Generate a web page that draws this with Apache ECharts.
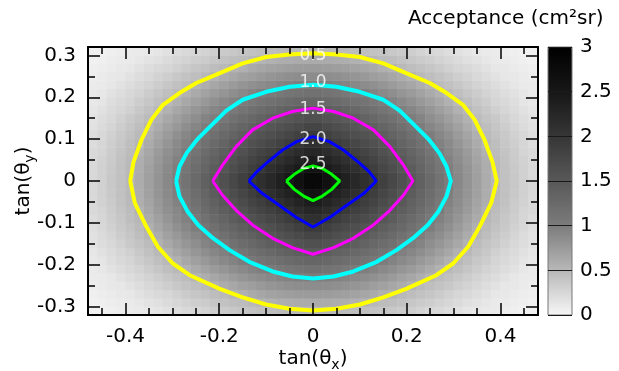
<!DOCTYPE html>
<html>
<head>
<meta charset="utf-8">
<script src="https://cdn.jsdelivr.net/npm/echarts@6/dist/echarts.min.js"></script>
<style>
html, body { margin: 0; padding: 0; background: #fff; }
#main { width: 619px; height: 371px; }
</style>
</head>
<body>
<div id="main"></div>
<script>
// acceptance map, cells 0.02 wide, centres in tan(theta_x) / tan(theta_y)
const xCells = [-0.47,-0.45,-0.43,-0.41,-0.39,-0.37,-0.35,-0.33,-0.31,-0.29,-0.27,-0.25,-0.23,-0.21,-0.19,-0.17,-0.15,-0.13,-0.11,-0.09,-0.07,-0.05,-0.03,-0.01,
                0.01,0.03,0.05,0.07,0.09,0.11,0.13,0.15,0.17,0.19,0.21,0.23,0.25,0.27,0.29,0.31,0.33,0.35,0.37,0.39,0.41,0.43,0.45,0.47];
const yCells = [-0.31,-0.29,-0.27,-0.25,-0.23,-0.21,-0.19,-0.17,-0.15,-0.13,-0.11,-0.09,-0.07,-0.05,-0.03,-0.01,
                0.01,0.03,0.05,0.07,0.09,0.11,0.13,0.15,0.17,0.19,0.21,0.23,0.25,0.27,0.29,0.31];

// rows bottom -> top, values in cm2 sr
const acceptance = [
  [0.04,0.04,0.06,0.07,0.09,0.10,0.11,0.14,0.17,0.20,0.23,0.25,0.28,0.32,0.35,0.37,0.40,0.42,0.44,0.45,0.47,0.48,0.48,0.49,0.49,0.48,0.48,0.47,0.45,0.44,0.42,0.40,0.37,0.35,0.32,0.28,0.25,0.23,0.20,0.17,0.14,0.11,0.10,0.09,0.07,0.06,0.04,0.04],
  [0.04,0.06,0.07,0.09,0.10,0.12,0.15,0.18,0.22,0.25,0.28,0.32,0.35,0.39,0.42,0.45,0.47,0.50,0.53,0.56,0.58,0.59,0.61,0.61,0.61,0.61,0.59,0.58,0.56,0.53,0.50,0.47,0.45,0.42,0.39,0.35,0.32,0.28,0.25,0.22,0.18,0.15,0.12,0.10,0.09,0.07,0.06,0.04],
  [0.06,0.07,0.09,0.11,0.12,0.16,0.20,0.23,0.26,0.30,0.35,0.39,0.42,0.46,0.49,0.54,0.57,0.62,0.65,0.68,0.70,0.72,0.73,0.74,0.74,0.73,0.72,0.70,0.68,0.65,0.62,0.57,0.54,0.49,0.46,0.42,0.39,0.35,0.30,0.26,0.23,0.20,0.16,0.12,0.11,0.09,0.07,0.06],
  [0.07,0.09,0.11,0.12,0.16,0.20,0.24,0.28,0.32,0.37,0.41,0.45,0.49,0.55,0.60,0.64,0.69,0.72,0.76,0.79,0.82,0.84,0.86,0.87,0.87,0.86,0.84,0.82,0.79,0.76,0.72,0.69,0.64,0.60,0.55,0.49,0.45,0.41,0.37,0.32,0.28,0.24,0.20,0.16,0.12,0.11,0.09,0.07],
  [0.09,0.10,0.12,0.16,0.20,0.24,0.28,0.33,0.38,0.43,0.47,0.53,0.58,0.64,0.69,0.74,0.79,0.83,0.87,0.90,0.93,0.96,0.98,0.99,0.99,0.98,0.96,0.93,0.90,0.87,0.83,0.79,0.74,0.69,0.64,0.58,0.53,0.47,0.43,0.38,0.33,0.28,0.24,0.20,0.16,0.12,0.10,0.09],
  [0.10,0.12,0.16,0.20,0.24,0.28,0.34,0.39,0.44,0.49,0.55,0.62,0.68,0.74,0.79,0.85,0.89,0.94,0.98,1.02,1.06,1.10,1.13,1.15,1.15,1.13,1.10,1.06,1.02,0.98,0.94,0.89,0.85,0.79,0.74,0.68,0.62,0.55,0.49,0.44,0.39,0.34,0.28,0.24,0.20,0.16,0.12,0.10],
  [0.11,0.14,0.19,0.23,0.27,0.33,0.38,0.44,0.49,0.56,0.63,0.70,0.77,0.83,0.89,0.94,1.00,1.05,1.11,1.15,1.20,1.24,1.28,1.31,1.31,1.28,1.24,1.20,1.15,1.11,1.05,1.00,0.94,0.89,0.83,0.77,0.70,0.63,0.56,0.49,0.44,0.38,0.33,0.27,0.23,0.19,0.14,0.11],
  [0.13,0.17,0.22,0.26,0.31,0.37,0.43,0.49,0.56,0.64,0.71,0.78,0.85,0.92,0.97,1.04,1.11,1.17,1.22,1.28,1.33,1.37,1.42,1.47,1.47,1.42,1.37,1.33,1.28,1.22,1.17,1.11,1.04,0.97,0.92,0.85,0.78,0.71,0.64,0.56,0.49,0.43,0.37,0.31,0.26,0.22,0.17,0.13],
  [0.15,0.20,0.24,0.30,0.36,0.41,0.47,0.55,0.63,0.71,0.78,0.85,0.93,0.99,1.07,1.15,1.22,1.28,1.35,1.41,1.46,1.51,1.57,1.62,1.62,1.57,1.51,1.46,1.41,1.35,1.28,1.22,1.15,1.07,0.99,0.93,0.85,0.78,0.71,0.63,0.55,0.47,0.41,0.36,0.30,0.24,0.20,0.15],
  [0.17,0.22,0.27,0.33,0.39,0.45,0.52,0.60,0.69,0.77,0.85,0.92,0.99,1.08,1.17,1.25,1.32,1.39,1.46,1.53,1.59,1.65,1.71,1.78,1.78,1.71,1.65,1.59,1.53,1.46,1.39,1.32,1.25,1.17,1.08,0.99,0.92,0.85,0.77,0.69,0.60,0.52,0.45,0.39,0.33,0.27,0.22,0.17],
  [0.19,0.24,0.30,0.36,0.42,0.48,0.57,0.66,0.74,0.83,0.91,0.99,1.08,1.17,1.26,1.34,1.42,1.50,1.57,1.63,1.70,1.77,1.85,1.94,1.94,1.85,1.77,1.70,1.63,1.57,1.50,1.42,1.34,1.26,1.17,1.08,0.99,0.91,0.83,0.74,0.66,0.57,0.48,0.42,0.36,0.30,0.24,0.19],
  [0.21,0.26,0.32,0.38,0.45,0.51,0.61,0.70,0.79,0.88,0.96,1.05,1.15,1.25,1.34,1.44,1.52,1.60,1.68,1.75,1.83,1.91,2.00,2.10,2.10,2.00,1.91,1.83,1.75,1.68,1.60,1.52,1.44,1.34,1.25,1.15,1.05,0.96,0.88,0.79,0.70,0.61,0.51,0.45,0.38,0.32,0.26,0.21],
  [0.23,0.27,0.34,0.40,0.47,0.55,0.64,0.74,0.83,0.91,1.01,1.11,1.22,1.32,1.42,1.52,1.61,1.70,1.79,1.87,1.96,2.06,2.16,2.25,2.25,2.16,2.06,1.96,1.87,1.79,1.70,1.61,1.52,1.42,1.32,1.22,1.11,1.01,0.91,0.83,0.74,0.64,0.55,0.47,0.40,0.34,0.27,0.23],
  [0.23,0.29,0.35,0.42,0.48,0.58,0.67,0.77,0.86,0.95,1.05,1.17,1.28,1.38,1.49,1.59,1.69,1.79,1.88,1.99,2.09,2.20,2.30,2.41,2.41,2.30,2.20,2.09,1.99,1.88,1.79,1.69,1.59,1.49,1.38,1.28,1.17,1.05,0.95,0.86,0.77,0.67,0.58,0.48,0.42,0.35,0.29,0.23],
  [0.24,0.30,0.36,0.43,0.49,0.59,0.69,0.79,0.88,0.98,1.09,1.21,1.32,1.44,1.55,1.66,1.77,1.88,1.99,2.11,2.23,2.34,2.45,2.59,2.59,2.45,2.34,2.23,2.11,1.99,1.88,1.77,1.66,1.55,1.44,1.32,1.21,1.09,0.98,0.88,0.79,0.69,0.59,0.49,0.43,0.36,0.30,0.24],
  [0.24,0.30,0.37,0.43,0.50,0.60,0.70,0.80,0.90,1.00,1.13,1.25,1.37,1.49,1.62,1.74,1.86,1.99,2.11,2.23,2.36,2.48,2.64,2.81,2.81,2.64,2.48,2.36,2.23,2.11,1.99,1.86,1.74,1.62,1.49,1.37,1.25,1.13,1.00,0.90,0.80,0.70,0.60,0.50,0.43,0.37,0.30,0.24],
  [0.24,0.30,0.37,0.43,0.50,0.60,0.70,0.80,0.90,1.00,1.13,1.25,1.37,1.49,1.62,1.74,1.86,1.99,2.11,2.23,2.36,2.48,2.64,2.81,2.81,2.64,2.48,2.36,2.23,2.11,1.99,1.86,1.74,1.62,1.49,1.37,1.25,1.13,1.00,0.90,0.80,0.70,0.60,0.50,0.43,0.37,0.30,0.24],
  [0.24,0.30,0.36,0.43,0.49,0.59,0.69,0.79,0.88,0.98,1.09,1.21,1.32,1.44,1.55,1.66,1.77,1.88,1.99,2.11,2.23,2.34,2.45,2.59,2.59,2.45,2.34,2.23,2.11,1.99,1.88,1.77,1.66,1.55,1.44,1.32,1.21,1.09,0.98,0.88,0.79,0.69,0.59,0.49,0.43,0.36,0.30,0.24],
  [0.23,0.29,0.35,0.42,0.48,0.58,0.67,0.77,0.86,0.95,1.05,1.17,1.28,1.38,1.49,1.59,1.69,1.79,1.88,1.99,2.09,2.20,2.30,2.41,2.41,2.30,2.20,2.09,1.99,1.88,1.79,1.69,1.59,1.49,1.38,1.28,1.17,1.05,0.95,0.86,0.77,0.67,0.58,0.48,0.42,0.35,0.29,0.23],
  [0.23,0.27,0.34,0.40,0.47,0.55,0.64,0.74,0.83,0.91,1.01,1.11,1.22,1.32,1.42,1.52,1.61,1.70,1.79,1.87,1.96,2.06,2.16,2.25,2.25,2.16,2.06,1.96,1.87,1.79,1.70,1.61,1.52,1.42,1.32,1.22,1.11,1.01,0.91,0.83,0.74,0.64,0.55,0.47,0.40,0.34,0.27,0.23],
  [0.21,0.26,0.32,0.38,0.45,0.51,0.61,0.70,0.79,0.88,0.96,1.05,1.15,1.25,1.34,1.44,1.52,1.60,1.68,1.75,1.83,1.91,2.00,2.10,2.10,2.00,1.91,1.83,1.75,1.68,1.60,1.52,1.44,1.34,1.25,1.15,1.05,0.96,0.88,0.79,0.70,0.61,0.51,0.45,0.38,0.32,0.26,0.21],
  [0.19,0.24,0.30,0.36,0.42,0.48,0.57,0.66,0.74,0.83,0.91,0.99,1.08,1.17,1.26,1.34,1.42,1.50,1.57,1.63,1.70,1.77,1.85,1.94,1.94,1.85,1.77,1.70,1.63,1.57,1.50,1.42,1.34,1.26,1.17,1.08,0.99,0.91,0.83,0.74,0.66,0.57,0.48,0.42,0.36,0.30,0.24,0.19],
  [0.17,0.22,0.27,0.33,0.39,0.45,0.52,0.60,0.69,0.77,0.85,0.92,0.99,1.08,1.17,1.25,1.32,1.39,1.46,1.53,1.59,1.65,1.71,1.78,1.78,1.71,1.65,1.59,1.53,1.46,1.39,1.32,1.25,1.17,1.08,0.99,0.92,0.85,0.77,0.69,0.60,0.52,0.45,0.39,0.33,0.27,0.22,0.17],
  [0.15,0.20,0.24,0.30,0.36,0.41,0.47,0.55,0.63,0.71,0.78,0.85,0.93,0.99,1.07,1.15,1.22,1.28,1.35,1.41,1.46,1.51,1.57,1.62,1.62,1.57,1.51,1.46,1.41,1.35,1.28,1.22,1.15,1.07,0.99,0.93,0.85,0.78,0.71,0.63,0.55,0.47,0.41,0.36,0.30,0.24,0.20,0.15],
  [0.13,0.17,0.22,0.26,0.31,0.37,0.43,0.49,0.56,0.64,0.71,0.78,0.85,0.92,0.97,1.04,1.11,1.17,1.22,1.28,1.33,1.37,1.42,1.47,1.47,1.42,1.37,1.33,1.28,1.22,1.17,1.11,1.04,0.97,0.92,0.85,0.78,0.71,0.64,0.56,0.49,0.43,0.37,0.31,0.26,0.22,0.17,0.13],
  [0.11,0.14,0.19,0.23,0.27,0.33,0.38,0.44,0.49,0.56,0.63,0.70,0.77,0.83,0.89,0.94,1.00,1.05,1.11,1.15,1.20,1.24,1.28,1.31,1.31,1.28,1.24,1.20,1.15,1.11,1.05,1.00,0.94,0.89,0.83,0.77,0.70,0.63,0.56,0.49,0.44,0.38,0.33,0.27,0.23,0.19,0.14,0.11],
  [0.10,0.12,0.16,0.20,0.24,0.28,0.34,0.39,0.44,0.49,0.55,0.62,0.68,0.74,0.79,0.85,0.89,0.94,0.98,1.02,1.06,1.10,1.13,1.15,1.15,1.13,1.10,1.06,1.02,0.98,0.94,0.89,0.85,0.79,0.74,0.68,0.62,0.55,0.49,0.44,0.39,0.34,0.28,0.24,0.20,0.16,0.12,0.10],
  [0.09,0.10,0.12,0.16,0.20,0.24,0.28,0.33,0.38,0.43,0.47,0.53,0.58,0.64,0.69,0.74,0.79,0.83,0.87,0.90,0.93,0.96,0.98,0.99,0.99,0.98,0.96,0.93,0.90,0.87,0.83,0.79,0.74,0.69,0.64,0.58,0.53,0.47,0.43,0.38,0.33,0.28,0.24,0.20,0.16,0.12,0.10,0.09],
  [0.07,0.09,0.11,0.12,0.16,0.20,0.24,0.28,0.32,0.37,0.41,0.45,0.49,0.55,0.60,0.64,0.69,0.72,0.76,0.79,0.82,0.84,0.86,0.87,0.87,0.86,0.84,0.82,0.79,0.76,0.72,0.69,0.64,0.60,0.55,0.49,0.45,0.41,0.37,0.32,0.28,0.24,0.20,0.16,0.12,0.11,0.09,0.07],
  [0.06,0.07,0.09,0.11,0.12,0.16,0.20,0.23,0.26,0.30,0.35,0.39,0.42,0.46,0.49,0.54,0.57,0.62,0.65,0.68,0.70,0.72,0.73,0.74,0.74,0.73,0.72,0.70,0.68,0.65,0.62,0.57,0.54,0.49,0.46,0.42,0.39,0.35,0.30,0.26,0.23,0.20,0.16,0.12,0.11,0.09,0.07,0.06],
  [0.04,0.06,0.07,0.09,0.10,0.12,0.15,0.18,0.22,0.25,0.28,0.32,0.35,0.39,0.42,0.45,0.47,0.50,0.53,0.56,0.58,0.59,0.61,0.61,0.61,0.61,0.59,0.58,0.56,0.53,0.50,0.47,0.45,0.42,0.39,0.35,0.32,0.28,0.25,0.22,0.18,0.15,0.12,0.10,0.09,0.07,0.06,0.04],
  [0.04,0.04,0.06,0.07,0.09,0.10,0.11,0.14,0.17,0.20,0.23,0.25,0.28,0.32,0.35,0.37,0.40,0.42,0.44,0.45,0.47,0.48,0.48,0.49,0.49,0.48,0.48,0.47,0.45,0.44,0.42,0.40,0.37,0.35,0.32,0.28,0.25,0.23,0.20,0.17,0.14,0.11,0.10,0.09,0.07,0.06,0.04,0.04]
];

// contour levels and their traced outlines [tan x, tan y]
const levels = [0.5, 1.0, 1.5, 2.0, 2.5];
const contour05 = [[-0.39,0],[-0.383,0.045],[-0.366,0.098],[-0.345,0.146],[-0.32,0.182],[-0.285,0.21],[-0.249,0.234],[-0.2,0.257],[-0.15,0.281],[-0.1,0.296],[-0.05,0.302],[0,0.305],[0.05,0.302],[0.1,0.296],[0.15,0.281],[0.2,0.257],[0.249,0.234],[0.285,0.21],[0.32,0.182],[0.345,0.146],[0.366,0.098],[0.383,0.045],[0.392,0],[0.38,-0.053],[0.355,-0.11],[0.331,-0.157],[0.299,-0.197],[0.263,-0.225],[0.2,-0.257],[0.15,-0.278],[0.1,-0.295],[0.05,-0.305],[0,-0.309],[-0.05,-0.305],[-0.1,-0.295],[-0.15,-0.278],[-0.2,-0.257],[-0.263,-0.225],[-0.299,-0.197],[-0.331,-0.157],[-0.355,-0.11],[-0.38,-0.053],[-0.39,0]];
const contour10 = [[-0.292,0],[-0.285,0.034],[-0.27,0.066],[-0.248,0.098],[-0.225,0.124],[-0.205,0.146],[-0.185,0.168],[-0.15,0.194],[-0.1,0.213],[-0.05,0.225],[0,0.23],[0.05,0.225],[0.1,0.213],[0.15,0.194],[0.185,0.168],[0.205,0.146],[0.225,0.124],[0.248,0.098],[0.27,0.066],[0.285,0.034],[0.294,0],[0.285,-0.036],[0.268,-0.072],[0.245,-0.105],[0.214,-0.136],[0.178,-0.165],[0.136,-0.193],[0.086,-0.216],[0.044,-0.228],[0,-0.233],[-0.044,-0.228],[-0.086,-0.216],[-0.136,-0.193],[-0.178,-0.165],[-0.214,-0.136],[-0.245,-0.105],[-0.268,-0.072],[-0.285,-0.036],[-0.292,0]];
const contour15 = [[-0.214,0],[-0.193,0.038],[-0.164,0.082],[-0.129,0.122],[-0.086,0.15],[-0.044,0.166],[0,0.174],[0.044,0.166],[0.086,0.15],[0.129,0.122],[0.164,0.082],[0.193,0.038],[0.213,0],[0.193,-0.034],[0.164,-0.07],[0.129,-0.105],[0.086,-0.137],[0.044,-0.159],[0,-0.175],[-0.044,-0.159],[-0.086,-0.137],[-0.129,-0.105],[-0.164,-0.07],[-0.193,-0.034],[-0.214,0]];
const contour20 = [[-0.137,0],[-0.12,0.022],[-0.1,0.042],[-0.065,0.074],[-0.035,0.094],[0,0.106],[0.035,0.094],[0.065,0.074],[0.1,0.042],[0.12,0.022],[0.135,0],[0.108,-0.03],[0.072,-0.058],[0.037,-0.086],[0,-0.11],[-0.037,-0.086],[-0.072,-0.058],[-0.108,-0.03],[-0.137,0]];
const contour25 = [[-0.057,0],[-0.04,0.016],[-0.02,0.03],[0,0.036],[0.02,0.03],[0.04,0.016],[0.057,0],[0.04,-0.02],[0.02,-0.036],[0,-0.047],[-0.02,-0.036],[-0.04,-0.02],[-0.057,0]];
// where each level's label sits (on x = 0)
const labelY = [0.30, 0.235, 0.17, 0.10, 0.039];

const xMajor = [-0.4, -0.2, 0, 0.2, 0.4];
const xMinor = [-0.45, -0.35, -0.3, -0.25, -0.15, -0.1, -0.05, 0.05, 0.1, 0.15, 0.25, 0.3, 0.35, 0.45];
const yMajor = [-0.3, -0.2, -0.1, 0, 0.1, 0.2, 0.3];
const yMinor = [-0.25, -0.15, -0.05, 0.05, 0.15, 0.25];

const font = 'DejaVu Sans';

const heatData = [];
acceptance.forEach((row, j) => row.forEach((v, i) => heatData.push([i, j, v])));

function frameAxis(pos, ticks, len, line, extra) {
    const isX = pos === 'top' || pos === 'bottom';
    return Object.assign({
        type: 'value',
        position: pos,
        min: isX ? -0.48 : -0.32,
        max: isX ? 0.48 : 0.32,
        z: 10,
        axisLine: { show: line, onZero: false, lineStyle: { color: '#000', width: 2 } },
        axisTick: { show: true, inside: true, length: len, customValues: ticks, lineStyle: { color: '#000', width: 1.5 } },
        axisLabel: { show: false },
        splitLine: { show: false }
    }, extra || {});
}

function contour(data, color, width) {
    return {
        type: 'line', xAxisIndex: 0, yAxisIndex: 0, data: data,
        symbol: 'none', silent: true, z: 5,
        lineStyle: { color: color, width: width }
    };
}

const subStyle = { s: { fontSize: 14, fontFamily: font, padding: [12, 0, 0, 0] } };

const option = {
    animation: false,
    textStyle: { fontFamily: font },
    title: {
        text: 'Acceptance (cm²sr)',
        left: 408, top: 9, padding: 0,
        textStyle: { fontSize: 20, fontWeight: 'normal', color: '#000', fontFamily: font }
    },
    grid: [
        { left: 88, top: 47, width: 450, height: 268, outerBoundsMode: 'none' },
        { left: 548, top: 47, width: 24, height: 268, outerBoundsMode: 'none', show: true, z: 10, borderColor: '#777', borderWidth: 1 }
    ],
    xAxis: [
        frameAxis('bottom', xMajor, 12, true, {
            axisLabel: { show: true, customValues: xMajor, fontSize: 20, color: '#000', margin: 12 },
            name: 'tan(θ{s|x})', nameLocation: 'middle', nameGap: 31, nameMoveOverlap: false,
            nameTextStyle: { fontSize: 20, color: '#000', rich: subStyle }
        }),
        frameAxis('bottom', xMinor, 7, false),
        frameAxis('top', xMajor, 12, true),
        frameAxis('top', xMinor, 7, false),
        { type: 'category', data: xCells, show: false, gridIndex: 0 },
        { type: 'value', gridIndex: 1, show: false, min: 0, max: 1 }
    ],
    yAxis: [
        frameAxis('left', yMajor, 12, true, {
            axisLabel: { show: true, customValues: yMajor, fontSize: 20, color: '#000', margin: 12 },
            name: 'tan(θ{s|y})', nameLocation: 'middle', nameGap: 51, nameMoveOverlap: false,
            nameTextStyle: { fontSize: 20, color: '#000', rich: subStyle }
        }),
        frameAxis('left', yMinor, 7, false),
        frameAxis('right', yMajor, 12, true),
        frameAxis('right', yMinor, 7, false),
        { type: 'category', data: yCells, show: false, gridIndex: 0 },
        {
            type: 'value', gridIndex: 1, position: 'right', min: 0, max: 3, interval: 0.5, z: 10,
            axisLine: { show: false }, axisTick: { show: false },
            axisLabel: { fontSize: 20, color: '#000', margin: 8 },
            splitLine: { show: true, lineStyle: { color: '#1a1a1a', width: 1 } }
        }
    ],
    visualMap: {
        type: 'continuous', min: 0, max: 3, seriesIndex: 0,
        orient: 'vertical', left: 548, top: 47, padding: 0,
        itemWidth: 24, itemHeight: 268, calculable: false, text: null,
        inRange: { color: ['#f6f6f6', '#b8b8b8', '#7c7c7c', '#585858', '#363636', '#171717', '#000000'] }
    },
    series: [
        {
            type: 'heatmap', xAxisIndex: 4, yAxisIndex: 4, data: heatData, silent: true,
            itemStyle: { borderWidth: 0 }
        },
        contour(contour05, '#ffff00', 4),
        contour(contour10, '#00ffff', 4),
        contour(contour15, '#ff00ff', 3),
        contour(contour20, '#0000ff', 3),
        contour(contour25, '#00ff00', 3),
        {
            type: 'scatter', xAxisIndex: 0, yAxisIndex: 0, symbolSize: 0, silent: true, z: 8,
            data: levels.map((l, k) => [0, labelY[k], l]),
            label: {
                show: true, position: 'inside', fontSize: 17, color: '#fff', fontFamily: font,
                formatter: p => p.value[2].toFixed(1)
            }
        }
    ]
};

const chart = echarts.init(document.getElementById('main'));
chart.setOption(option);
</script>
</body>
</html>
